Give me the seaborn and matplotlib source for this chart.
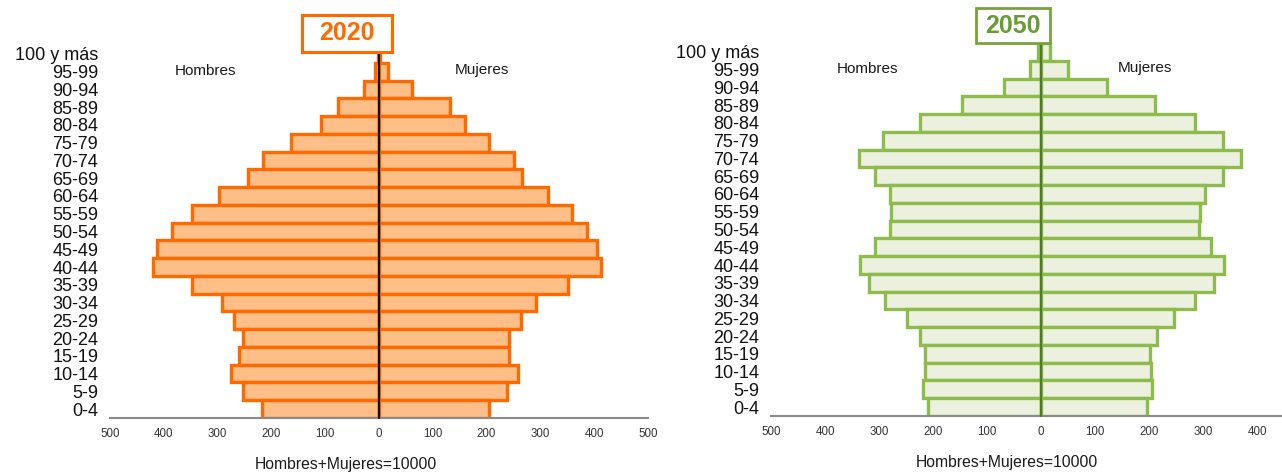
import numpy as np
import pandas as pd
import matplotlib
matplotlib.use('Agg')
import matplotlib.pyplot as plt
from matplotlib.patches import Rectangle
import seaborn as sns

# grupos de edad, de arriba hacia abajo
edades = ['100 y más', '95-99', '90-94', '85-89', '80-84', '75-79', '70-74',
          '65-69', '60-64', '55-59', '50-54', '45-49', '40-44', '35-39',
          '30-34', '25-29', '20-24', '15-19', '10-14', '5-9', '0-4']

hombres_2020 = [1, 8, 28, 77, 108, 164, 216, 243, 298, 348, 385, 412, 420,
                348, 292, 270, 252, 260, 275, 252, 217]
mujeres_2020 = [2, 16, 62, 132, 159, 205, 251, 266, 315, 359, 386, 405, 413,
                351, 292, 264, 241, 242, 258, 238, 205]

hombres_2050 = [5, 21, 68, 146, 225, 293, 337, 308, 279, 278, 279, 308, 335,
                319, 288, 249, 225, 214, 215, 218, 209]
mujeres_2050 = [16, 50, 123, 212, 285, 337, 371, 337, 304, 294, 293, 315, 338,
                321, 285, 246, 215, 201, 204, 206, 197]

ticks = [-500, -400, -300, -200, -100, 0, 100, 200, 300, 400, 500]

sns.set_theme(style='white')
plt.rcParams['font.family'] = ['Liberation Sans', 'DejaVu Sans']

fig = plt.figure(figsize=(12.82, 4.72), dpi=100)


def piramide(ax, h, m, fill, edge, midline, xt):
    d = pd.DataFrame({'edad': edades, 'h': -np.array(h), 'm': np.array(m)})
    for col in ['h', 'm']:
        sns.barplot(data=d, x=col, y='edad', orient='h', ax=ax, color=fill,
                    edgecolor=edge, linewidth=2.4, width=1.0, saturation=1)
    ax.set_xlim(-500, 500)
    ax.set_ylim(len(edades) - 0.5, -0.5)
    ax.axvline(0, color=midline, lw=1.6, ymax=1.01, clip_on=False, zorder=5)
    ax.set_xticks(xt)
    ax.set_xticklabels([str(abs(t)) for t in xt], fontsize=8.3,
                       color='#333333')
    ax.tick_params(axis='x', length=0, pad=7)
    ax.tick_params(axis='y', length=0, pad=8.5)
    for lab in ax.get_yticklabels():
        lab.set_fontsize(13)
        lab.set_color('#111111')
    ax.set_xlabel('')
    ax.set_ylabel('')
    for s in ['top', 'left', 'right']:
        ax.spines[s].set_visible(False)
    ax.spines['bottom'].set_color('#8a8a8a')
    ax.spines['bottom'].set_linewidth(1.5)
    ax.patch.set_alpha(0)
    ax.text(-322, 0.95, 'Hombres', fontsize=11, ha='center', va='center',
            color='#1a1a1a')
    ax.text(192, 0.9, 'Mujeres', fontsize=11, ha='center', va='center',
            color='#1a1a1a')


ax1 = fig.add_axes([110 / 1282, 54 / 472, 538 / 1282, 373 / 472])
piramide(ax1, hombres_2020, mujeres_2020, '#fdbe88', '#ff6a00', '#111111',
         ticks)

# el panel derecho queda cortado por el borde de la figura
ax2 = fig.add_axes([771 / 1282, 56 / 472, 540 / 1282, 373 / 472])
piramide(ax2, hombres_2050, mujeres_2050, '#ebf1de', '#8dbb4c', '#4e7a27',
         ticks[:-1])

# recuadros con el año
fig.patches.append(Rectangle((302 / 1282, 420 / 472), 90 / 1282, 37 / 472,
                             transform=fig.transFigure, facecolor='white',
                             edgecolor='#ff6a00', lw=2.2, zorder=10))
fig.text(347 / 1282, 438.5 / 472, '2020', fontsize=18, fontweight='bold',
         color='#ff6a00', ha='center', va='center', zorder=11)

fig.patches.append(Rectangle((976 / 1282, 429 / 472), 74 / 1282, 35 / 472,
                             transform=fig.transFigure, facecolor='white',
                             edgecolor='#77a33a', lw=2.0, zorder=10))
fig.text(1013 / 1282, 446 / 472, '2050', fontsize=18, fontweight='bold',
         color='#6a9b34', ha='center', va='center', zorder=11)

fig.text(346 / 1282, 7 / 472, 'Hombres+Mujeres=10000', fontsize=11.3,
         ha='center', va='center', color='#1a1a1a')
fig.text(1007 / 1282, 9 / 472, 'Hombres+Mujeres=10000', fontsize=11.3,
         ha='center', va='center', color='#1a1a1a')

fig.savefig('out.png', dpi=100)
